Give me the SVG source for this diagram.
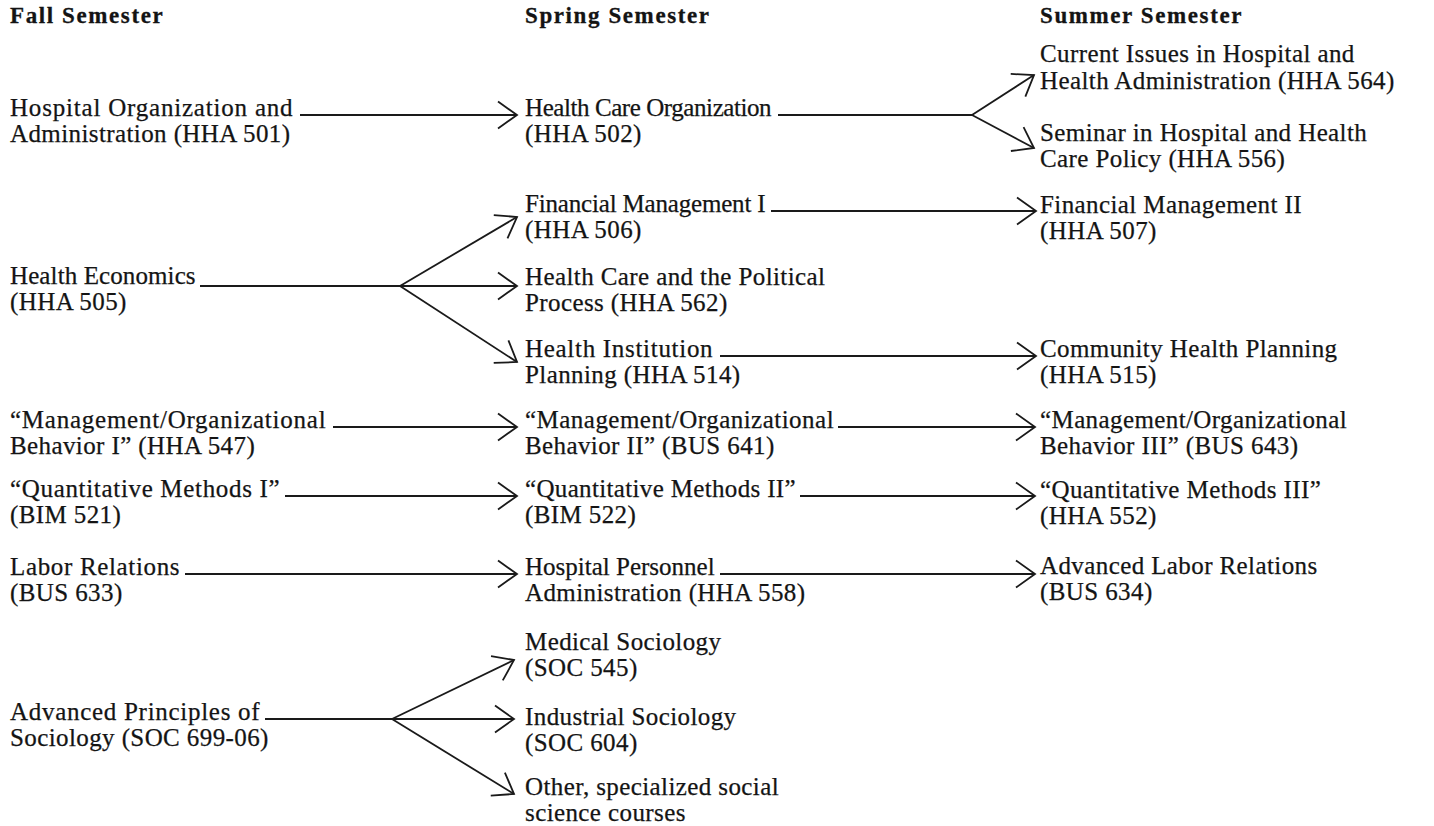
<svg xmlns="http://www.w3.org/2000/svg" width="1434" height="826" viewBox="0 0 1434 826">
<defs>
<style>
text{font-family:"Liberation Serif","Times New Roman",serif;font-size:25px;fill:#141414;letter-spacing:0.4px;stroke:#141414;stroke-width:0.25px}
.h{font-weight:bold;font-size:23px;letter-spacing:1.6px;stroke-width:0.3px}
.c line{stroke:#1a1a1a;stroke-width:1.8;fill:none}
</style>
<marker id="arr" markerUnits="userSpaceOnUse" markerWidth="30" markerHeight="30" refX="21" refY="15" orient="auto" overflow="visible">
<path d="M2,1.5 L21,15 L2,28.5" fill="none" stroke="#1a1a1a" stroke-width="1.8"/>
</marker>
</defs>
<rect width="1434" height="826" fill="#ffffff"/>
<g id="headers">
<text class="h" x="10" y="23">Fall Semester</text>
<text class="h" x="525" y="23">Spring Semester</text>
<text class="h" x="1040" y="23">Summer Semester</text>
</g>
<g id="fall">
<g id="hha501"><text x="10" y="116" textLength="283" lengthAdjust="spacing">Hospital Organization and</text><text x="10" y="142">Administration (HHA 501)</text></g>
<g id="hha505"><text x="10" y="284" textLength="186" lengthAdjust="spacing">Health Economics</text><text x="10" y="310">(HHA 505)</text></g>
<g id="hha547"><text x="10" y="428" textLength="316" lengthAdjust="spacing">“Management/Organizational</text><text x="10" y="454">Behavior I” (HHA 547)</text></g>
<g id="bim521"><text x="10" y="497" textLength="270" lengthAdjust="spacing">“Quantitative Methods I”</text><text x="10" y="523">(BIM 521)</text></g>
<g id="bus633"><text x="10" y="575" textLength="170" lengthAdjust="spacing">Labor Relations</text><text x="10" y="601">(BUS 633)</text></g>
<g id="soc699"><text x="10" y="720" textLength="250" lengthAdjust="spacing">Advanced Principles of</text><text x="10" y="746">Sociology (SOC 699-06)</text></g>
</g>
<g id="spring">
<g id="hha502"><text x="525" y="116" textLength="247" lengthAdjust="spacing">Health Care Organization</text><text x="525" y="142">(HHA 502)</text></g>
<g id="hha506"><text x="525" y="212" textLength="241" lengthAdjust="spacing">Financial Management I</text><text x="525" y="238">(HHA 506)</text></g>
<g id="hha562"><text x="525" y="285">Health Care and the Political</text><text x="525" y="311">Process (HHA 562)</text></g>
<g id="hha514"><text x="525" y="357" textLength="188" lengthAdjust="spacing">Health Institution</text><text x="525" y="383">Planning (HHA 514)</text></g>
<g id="bus641"><text x="525" y="428" textLength="309" lengthAdjust="spacing">“Management/Organizational</text><text x="525" y="454">Behavior II” (BUS 641)</text></g>
<g id="bim522"><text x="525" y="497" textLength="271" lengthAdjust="spacing">“Quantitative Methods II”</text><text x="525" y="523">(BIM 522)</text></g>
<g id="hha558"><text x="525" y="575" textLength="190" lengthAdjust="spacing">Hospital Personnel</text><text x="525" y="601">Administration (HHA 558)</text></g>
<g id="soc545"><text x="525" y="650">Medical Sociology</text><text x="525" y="676">(SOC 545)</text></g>
<g id="soc604"><text x="525" y="725">Industrial Sociology</text><text x="525" y="751">(SOC 604)</text></g>
<g id="other"><text x="525" y="795">Other, specialized social</text><text x="525" y="821">science courses</text></g>
</g>
<g id="summer">
<g id="hha564"><text x="1040" y="62">Current Issues in Hospital and</text><text x="1040" y="89">Health Administration (HHA 564)</text></g>
<g id="hha556"><text x="1040" y="141">Seminar in Hospital and Health</text><text x="1040" y="167">Care Policy (HHA 556)</text></g>
<g id="hha507"><text x="1040" y="213">Financial Management II</text><text x="1040" y="239">(HHA 507)</text></g>
<g id="hha515"><text x="1040" y="357">Community Health Planning</text><text x="1040" y="383">(HHA 515)</text></g>
<g id="bus643"><text x="1040" y="428">“Management/Organizational</text><text x="1040" y="454">Behavior III” (BUS 643)</text></g>
<g id="hha552"><text x="1040" y="498">“Quantitative Methods III”</text><text x="1040" y="524">(HHA 552)</text></g>
<g id="bus634"><text x="1040" y="574">Advanced Labor Relations</text><text x="1040" y="600">(BUS 634)</text></g>
</g>
<g id="connectors" class="c">
<line x1="300" y1="115" x2="517" y2="115" marker-end="url(#arr)"/>
<line x1="778" y1="115" x2="972" y2="115"/>
<line x1="972" y1="115" x2="1034" y2="75" marker-end="url(#arr)"/>
<line x1="972" y1="115" x2="1034" y2="148" marker-end="url(#arr)"/>
<line x1="200" y1="286" x2="400" y2="286"/>
<line x1="400" y1="286" x2="517" y2="217" marker-end="url(#arr)"/>
<line x1="400" y1="286" x2="517" y2="286" marker-end="url(#arr)"/>
<line x1="400" y1="286" x2="517" y2="362" marker-end="url(#arr)"/>
<line x1="771" y1="211" x2="1036" y2="211" marker-end="url(#arr)"/>
<line x1="720" y1="356" x2="1036" y2="356" marker-end="url(#arr)"/>
<line x1="333" y1="427" x2="517" y2="427" marker-end="url(#arr)"/>
<line x1="838" y1="427" x2="1035" y2="427" marker-end="url(#arr)"/>
<line x1="285" y1="496" x2="517" y2="496" marker-end="url(#arr)"/>
<line x1="800" y1="496" x2="1035" y2="496" marker-end="url(#arr)"/>
<line x1="185" y1="574" x2="517" y2="574" marker-end="url(#arr)"/>
<line x1="720" y1="574" x2="1035" y2="574" marker-end="url(#arr)"/>
<line x1="265" y1="719" x2="392" y2="719"/>
<line x1="392" y1="719" x2="514" y2="660" marker-end="url(#arr)"/>
<line x1="392" y1="719" x2="514" y2="719" marker-end="url(#arr)"/>
<line x1="392" y1="719" x2="514" y2="794" marker-end="url(#arr)"/>
</g>
</svg>
